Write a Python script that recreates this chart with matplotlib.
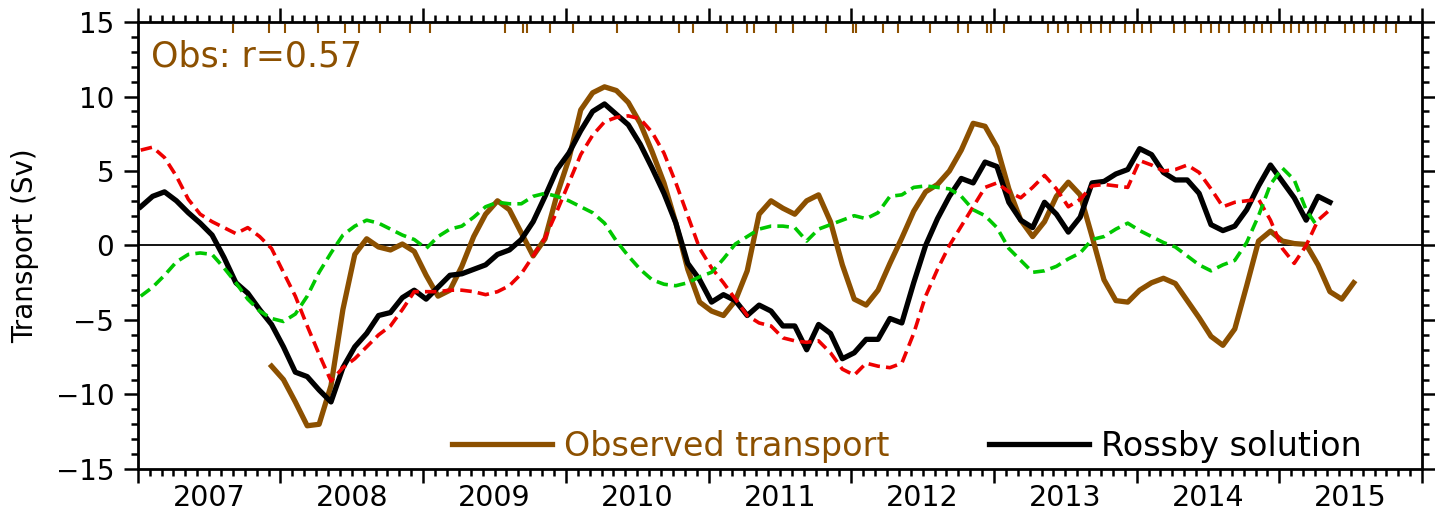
import numpy as np
import matplotlib
matplotlib.use("Agg")
import matplotlib.pyplot as plt
from matplotlib.ticker import MultipleLocator

# monthly series, first value = Jan 2007
rossby = [2.6, 3.3, 3.6, 3.0, 2.2, 1.5, 0.7, -0.8, -2.5, -3.2, -4.3, -5.3,
          -6.8, -8.5, -8.8, -9.7, -10.5, -8.2, -6.8, -5.9, -4.7, -4.5, -3.5, -3.0,
          -3.6, -2.8, -2.0, -1.9, -1.6, -1.3, -0.6, -0.3, 0.4, 1.6, 3.3, 5.1,
          6.2, 7.7, 9.0, 9.5, 8.8, 8.1, 6.8, 5.2, 3.5, 1.5, -1.2, -2.3,
          -3.8, -3.3, -3.7, -4.7, -4.0, -4.4, -5.4, -5.4, -7.0, -5.3, -5.9, -7.6,
          -7.2, -6.3, -6.3, -4.9, -5.2, -2.5, 0.0, 1.8, 3.3, 4.5, 4.2, 5.6,
          5.3, 2.9, 1.7, 1.2, 2.9, 2.1, 0.9, 1.9, 4.2, 4.3, 4.8, 5.1,
          6.5, 6.1, 4.9, 4.4, 4.4, 3.5, 1.4, 1.0, 1.3, 2.4, 4.0, 5.4,
          4.3, 3.2, 1.7, 3.3, 2.9]

red_model = [6.4, 6.6, 5.9, 4.65, 3.1, 2.1, 1.6, 1.2, 0.8, 1.2, 0.6, -0.2,
             -1.8, -3.4, -5.4, -7.3, -9.1, -8.2, -7.6, -6.8, -6.0, -5.4, -4.3, -3.1,
             -3.1, -3.1, -3.0, -3.0, -3.1, -3.3, -3.1, -2.7, -1.9, -0.7, 0.5, 2.3,
             4.2, 6.1, 7.4, 8.3, 8.6, 8.7, 8.5, 7.6, 6.2, 4.2, 2.0, -0.2,
             -1.5, -2.5, -3.6, -4.7, -5.2, -5.4, -6.2, -6.4, -6.5, -6.4, -7.2, -8.3,
             -8.7, -7.9, -8.1, -8.2, -7.9, -5.9, -3.4, -1.6, 0.0, 1.3, 2.6, 3.9,
             4.2, 3.6, 3.2, 3.9, 4.7, 3.8, 2.6, 3.1, 4.0, 4.1, 4.0, 3.9,
             5.7, 5.4, 5.0, 5.1, 5.4, 4.9, 3.8, 2.6, 2.9, 3.0, 3.1, 1.7,
             -0.2, -1.2, 0.0, 1.7, 2.4]

green_model = [-3.4, -2.8, -2.0, -1.1, -0.6, -0.5, -0.6, -1.5, -2.5, -3.6, -4.4, -4.9,
               -5.1, -4.6, -3.4, -1.8, -0.5, 0.7, 1.3, 1.7, 1.5, 1.1, 0.7, 0.4,
               -0.2, 0.6, 1.1, 1.3, 1.9, 2.6, 2.9, 2.8, 2.8, 3.3, 3.5, 3.3,
               3.0, 2.6, 2.2, 1.5, 0.3, -0.7, -1.6, -2.3, -2.6, -2.7, -2.5, -2.1,
               -1.8, -0.9, 0.1, 0.6, 1.1, 1.3, 1.3, 1.2, 0.3, 1.1, 1.4, 1.7,
               2.0, 1.8, 2.2, 3.3, 3.4, 3.9, 4.0, 3.9, 3.8, 3.3, 2.4, 2.0,
               1.2, -0.2, -1.0, -1.8, -1.7, -1.4, -0.9, -0.5, 0.4, 0.6, 1.1, 1.5,
               1.0, 0.6, 0.2, -0.1, -0.7, -1.3, -1.7, -1.3, -1.0, 0.2, 2.0, 4.1,
               5.2, 4.4, 2.4, 1.2]

# observed transport starts Dec 2007 (month index 11)
obs_start = 11
observed = [-8.1, -9.0, -10.5, -12.1, -12.0, -9.4, -4.3, -0.6, 0.45, -0.1, -0.3, 0.1,
            -0.4, -2.0, -3.4, -3.0, -1.4, 0.6, 2.1, 3.0, 2.4, 0.85, -0.7, 0.45,
            3.4, 5.8, 9.1, 10.25, 10.65, 10.4, 9.6, 8.2, 6.3, 4.2, 1.5, -1.6,
            -3.8, -4.4, -4.7, -3.7, -1.7, 2.1, 3.0, 2.5, 2.1, 3.0, 3.4, 1.6,
            -1.3, -3.6, -4.0, -3.0, -1.2, 0.5, 2.3, 3.6, 4.1, 5.0, 6.4, 8.2,
            8.0, 6.6, 3.8, 1.7, 0.6, 1.6, 3.3, 4.25, 3.4, 0.6, -2.3, -3.7,
            -3.8, -3.0, -2.5, -2.2, -2.55, -3.7, -4.85, -6.1, -6.7, -5.6, -2.7, 0.3,
            0.96, 0.3, 0.13, 0.07, -1.3, -3.1, -3.6, -2.5]

# dates of individual observations (rug along the top)
obs_dates = [2007.67, 2007.92, 2008.03, 2008.26, 2008.45, 2008.55, 2008.70, 2008.91,
             2009.05, 2009.57, 2009.70, 2009.73, 2009.89, 2010.05, 2010.36, 2010.79,
             2010.89, 2011.13, 2011.27, 2011.32, 2011.47, 2011.59, 2011.82, 2012.01,
             2012.03, 2012.22, 2012.33, 2012.55, 2012.75, 2012.82, 2012.95, 2012.98,
             2013.07, 2013.38, 2013.45, 2013.52, 2013.61, 2013.68, 2013.75, 2013.81,
             2013.92, 2013.98, 2014.04, 2014.10, 2014.26, 2014.34, 2014.45, 2014.52,
             2014.58, 2014.65, 2014.76, 2014.82, 2014.88, 2014.94, 2015.03, 2015.08,
             2015.14, 2015.20, 2015.26, 2015.32, 2015.46, 2015.52, 2015.59, 2015.66,
             2015.75, 2015.82]

year_labels = ["2007", "2008", "2009", "2010", "2011", "2012", "2013", "2014", "2015"]

BROWN = "#8c5000"
RED = "#ee0000"
GREEN = "#00c800"


def month_time(n, start=0):
    return 2007 + (np.arange(start, start + n) + 0.25) / 12.0


fig = plt.figure(figsize=(14.35, 5.24), dpi=100)
ax = fig.add_axes([0.096, 0.105, 0.895, 0.853])

ax.axhline(0, color="black", lw=1.3, zorder=1)

ax.plot(month_time(len(observed), obs_start), observed, color=BROWN, lw=3.8,
        label="Observed transport", zorder=3)
ax.plot(month_time(len(rossby)), rossby, color="black", lw=3.8,
        label="Rossby solution", zorder=4)
ax.plot(month_time(len(red_model)), red_model, color=RED, lw=2.6,
        dashes=(3.2, 1.7), zorder=5)
ax.plot(month_time(len(green_model)), green_model, color=GREEN, lw=2.6,
        dashes=(3.2, 1.7), zorder=6)

ax.vlines(obs_dates, 14.23, 14.85, color=BROWN, lw=1.5, zorder=2)

ax.set_xlim(2007, 2016)
ax.set_ylim(-15, 15)

# axes decoration
for sp in ax.spines.values():
    sp.set_linewidth(2)
ax.set_xticks(np.arange(2007, 2017))
ax.set_xticklabels([])
ax.xaxis.set_minor_locator(MultipleLocator(1 / 12))
ax.set_yticks(np.arange(-15, 16, 5))
ax.yaxis.set_minor_locator(MultipleLocator(1))
ax.tick_params(which="major", direction="out", length=10, width=1.8,
               top=True, right=True, labelsize=20, pad=7)
ax.tick_params(which="minor", direction="out", length=5, width=1.8,
               top=True, right=True)

for i, lab in enumerate(year_labels):
    ax.text(2007.5 + i, -0.033, lab, transform=ax.get_xaxis_transform(),
            ha="center", va="top", fontsize=20.5)

ax.set_ylabel("Transport (Sv)", fontsize=20)
ax.yaxis.set_label_coords(-0.077, 0.5)

ax.text(0.01, 0.922, "Obs: r=0.57", transform=ax.transAxes, color=BROWN,
        fontsize=25, ha="left", va="center")

ax.legend(loc="center left", bbox_to_anchor=(0.245, 0.05), ncol=2,
          frameon=False, fontsize=24, handlelength=3.0, handletextpad=0.35,
          columnspacing=3.0, borderpad=0, borderaxespad=0, labelcolor="linecolor")

fig.savefig("out.png", dpi=100)
